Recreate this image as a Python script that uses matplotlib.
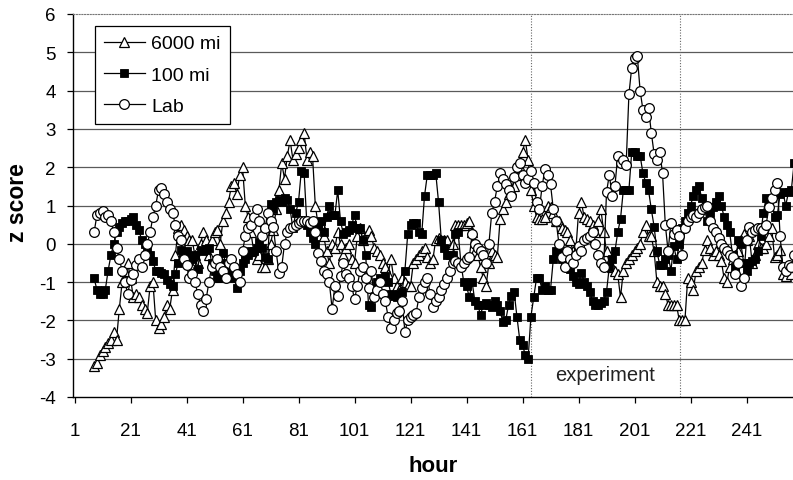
import numpy as np
import matplotlib
matplotlib.use("Agg")
import matplotlib.pyplot as plt

plt.rcParams['font.family'] = ['Liberation Sans', 'DejaVu Sans']

# ---------------- data (hourly z scores, first hour = 8) ----------------
first_hour = 8
tri_6000 = [
    -3.2, -3.1, -2.9, -2.8, -2.7, -2.6, -2.5, -2.3, -2.5, -1.7,
    -1.0, -0.7, -0.5, -0.9, -1.4, -1.3, -1.4, -1.6, -1.7, -1.8,
    -1.1, -1.0, -2.0, -2.2, -2.1, -1.9, -1.6, -1.7, -1.2, -0.3,
    0.4, 0.5, 0.35, 0.2, 0.1, 0.1, -0.3, -0.5, 0.0, 0.3,
    0.1, -0.3, 0.1, 0.3, 0.35, 0.0, 0.6, 0.8, 1.1, 1.5,
    1.6, 1.3, 1.8, 2.0, 1.0, 0.7, 0.3, -0.2, -0.4, -0.3,
    -0.6, -0.6, -0.4, 0.0, 0.35, 0.9, 1.4, 2.1, 1.7, 2.3,
    2.7, 2.2, 2.35, 2.5, 2.7, 2.9, 2.2, 2.4, 2.3, 1.0,
    0.5, 0.5, 0.2, -0.2, -0.5, 0.0, -0.1, 0.3, 0.0, -0.3,
    -0.1, 0.0, -0.4, -0.5, 0.2, 0.4, 0.1, 0.2, 0.35, 0.2,
    -0.1, -0.2, -0.3, -0.5, -0.6, -0.8, -0.4, -0.9, -1.1, -1.2,
    -0.9, -1.0, -1.1, -1.1, -0.5, -0.4, -0.3, -0.2, -0.1, -0.35,
    -0.5, -0.4, 0.1, 0.15, 0.1, 0.1, 0.1, -0.1, 0.0, 0.5,
    0.5, 0.5, 0.5, 0.55, 0.6, 0.3, -0.2, -0.3, -0.6, -0.9,
    -1.1, -0.5, -0.2, -0.3, -0.35, 0.65, 0.9, 1.1, 1.3, 1.4,
    1.5, 1.8, 2.0, 2.4, 2.7, 2.2, 1.4, 1.0, 0.7, 0.65,
    0.65, 0.7, 1.0, 0.95, 0.8, 0.6, 0.6, 0.4, 0.35, 0.3,
    0.1, -0.2, -0.2, 0.8, 1.1, 0.7, 0.65, 0.6, 0.5, 0.3,
    0.6, 0.9, 0.3, -0.2, -0.5, -0.6, -0.7, -0.8, -1.4, -0.7,
    -0.5, -0.4, -0.3, -0.2, -0.1, 0.0, 0.3, 0.5, 0.2, 0.2,
    -0.2, -1.0, -1.1,
    -1.1, -1.3, -1.6, -1.6, -1.6, -1.6, -2.0, -2.0, -2.0, -0.9,
    -1.0, -1.2, -0.7, -0.6, -0.5, -0.15, 0.1, -0.1, -0.3, -0.2,
    -0.3, -0.45, -0.9, -1.0, -0.6, -0.4, -0.3, -0.2, 0.1, 0.25,
    0.1, 0.2, -0.5, -0.3, 0.0, -0.1, -0.1, 0.0, 0.2, 0.4,
    -0.35, -0.3, -0.15, -0.8, -0.85, -0.6, -0.8, -0.5,
]
sq_100 = [
    -0.9, -1.2, -1.3, -1.3, -1.2, -0.7, -0.3, 0.0, 0.3, 0.45,
    0.55, 0.6, 0.6, 0.65, 0.7, 0.5, 0.35, 0.1, 0.0, -0.2,
    -0.3, -0.45, -0.7, -0.7, -0.75, -0.8, -0.95, -1.05, -1.1, -0.8,
    -0.5, -0.15, -0.35, -0.2, -0.45, -0.4, -0.3, -0.65, -0.15, -0.2,
    -0.15, -0.1, -0.5, -0.7, -0.9, -0.9, -0.25, -0.5, -0.6, -0.8,
    -0.9, -1.15, -0.7, -0.5, -0.4, -0.3, -0.2, -0.2, -0.1, 0.05,
    -0.1, -0.35, -0.4, 1.05, 0.9, 1.1, 1.15, 1.1, 1.2, 1.15,
    0.9, 0.4, 0.8, 1.1, 1.9, 1.85, 0.5, 0.3, 0.15, 0.0,
    0.4, 0.6, 0.3, 0.7, 1.0, 0.75, 0.75, 1.4, 0.6, 0.25,
    0.3, 0.35, 0.5, 0.75, 0.4, 0.4, 0.1, -0.3, -1.6, -1.65,
    -1.2, -1.0, -0.9, -0.95, -0.85, -1.0, -1.3, -1.35, -1.4, -1.3,
    -1.25, -0.7, 0.25, 0.5, 0.55, 0.55, 0.3, 0.25, 1.25, 1.8,
    1.8, 1.8, 1.85, 1.1, 0.1, -0.1, -0.3, -0.3, -0.3, 0.25,
    0.3, -0.5, -1.0, -1.1, -1.4, -1.0, -1.5, -1.6, -1.85, -1.6,
    -1.55, -1.6, -1.65, -1.5, -1.6, -1.75, -2.05, -2.0, -1.6, -1.35,
    -1.25, -1.9, -2.5, -2.65, -2.9, -3.0, -1.9, -1.4, -0.9, -0.9,
    -1.2, -1.1, -1.2, -1.2, -0.4, -0.2, -0.25, -0.4, -0.45, -0.5,
    -0.65, -0.85, -1.0, -1.05, -0.75, -1.0, -1.1, -1.25, -1.5, -1.6,
    -1.6, -1.55, -1.5, -1.25, -0.6, -0.4, -0.2, 0.3, 0.65, 1.4,
    1.4, 1.4, 2.4, 2.4, 2.3, 2.3, 1.85, 1.6, 1.4, 0.9,
    0.45, -0.2, -0.55,
    -0.55, -0.4, -0.3, -0.7, -0.05, -0.4, 0.0, 0.4, 0.6, 0.8,
    1.0, 1.25, 1.4, 1.5, 1.2, 0.9, 0.6, 0.8, 0.95, 1.1,
    1.25, 1.0, 0.7, 0.5, 0.3, -0.3, -0.6, 0.1, 0.0, -0.5,
    -0.7, -0.5, -0.45, -0.4, -0.2, 0.2, 0.8, 1.2, 1.1, 1.2,
    0.7, 0.75, 1.3, 1.35, 1.0, 1.35, 1.4, 2.1,
]
lab = [
    0.3, 0.75, 0.8, 0.85, 0.7, 0.75, 0.6, 0.3, -0.1, -0.4,
    -0.7, -1.0, -1.3, -0.95, -0.8, -0.55, -0.4, -0.6, -0.3, 0.0,
    0.3, 0.7, 1.0, 1.4, 1.45, 1.3, 1.1, 0.9, 0.8, 0.5,
    0.2, 0.1, -0.4, -0.55, -0.9, -0.8, -1.0, -1.3, -1.6, -1.75,
    -1.45, -1.0, -0.6, -0.5, -0.4, -0.6, -0.7, -0.9, -0.5, -0.4,
    -0.6, -0.8, -1.0, -0.2, 0.2, 0.4, 0.5, 0.7, 0.9, 0.6,
    0.2, 0.4, 0.8, 0.6, 0.45, -0.2, -0.75, -0.6, 0.0, 0.3,
    0.4, 0.45, 0.5, 0.55, 0.6, 0.6, 0.6, 0.55, 0.6, 0.3,
    -0.25, -0.45, -0.7, -0.8, -1.0, -1.7, -1.1, -1.35, -0.85, -0.5,
    -0.8, -0.9, -1.1, -1.45, -1.1, -0.7, -0.6, -0.9, -1.15, -0.7,
    -1.4, -1.2, -1.0, -1.3, -1.5, -1.9, -2.2, -2.0, -1.8, -1.75,
    -1.5, -2.3, -2.0, -1.9, -1.85, -1.8, -1.4, -1.15, -1.0, -0.9,
    -1.3, -1.65, -1.5, -1.4, -1.2, -1.05, -0.9, -0.7, -0.5, -0.45,
    -0.5, -0.6, -0.5, -0.4, -0.35, 0.25, 0.0, -0.1, -0.2, -0.3,
    -0.5, 0.0, 0.8, 1.1, 1.5, 1.85, 1.7, 1.55, 1.4, 1.25,
    1.75, 2.0, 2.1, 1.8, 1.6, 1.7, 1.9, 1.6, 1.1, 0.9,
    1.5, 1.95, 1.8, 1.55, 0.9, 0.6, 0.0, -0.35, -0.6, -0.2,
    -0.4, -0.5, -0.3, -0.05, -0.2, 0.1, 0.15, 0.2, 0.3, 0.0,
    -0.3, -0.5, -0.6, 1.35, 1.8, 1.25, 1.5, 2.3, 2.1, 2.2,
    2.05, 3.9, 4.6, 4.85, 4.9, 4.0, 3.5, 3.3, 3.55, 2.9,
    2.35, 2.2, 2.4,
    1.85, 0.5, -0.2, 0.55, 0.25, 0.35, 0.2, -0.3, 0.4, 0.6,
    0.7, 0.75, 0.7, 0.8, 0.9, 0.95, 1.0, 0.6, 0.4, 0.3,
    0.15, 0.0, -0.1, -0.2, -0.3, -0.35, -0.8, -0.5, -1.1, -0.9,
    0.1, 0.45, 0.3, 0.35, 0.4, 0.4, 0.35, 0.5, 0.95, 1.2,
    1.4, 1.6, 0.2, -0.6, -0.7, -0.55, -0.6, -0.3,
]
series_names = ["6000 mi", "100 mi", "Lab"]
tick_hours = [1, 21, 41, 61, 81, 101, 121, 141, 161, 181, 201, 221, 241]
y_ticks = [-4, -3, -2, -1, 0, 1, 2, 3, 4, 5, 6]
experiment_bounds = [163.9, 217.4]

# ---------------- figure ----------------
W, H = 793, 481
fig = plt.figure(figsize=(W / 100, H / 100), dpi=100)
x0, x1 = 0.46, 258.5
px_per_hour = 2.8
ax = fig.add_axes([73 / W, 1 - 398 / H, (x1 - x0) * px_per_hour / W, 383 / H])
ax.set_xlim(x0, x1)
ax.set_ylim(-4, 6)

for yv in y_ticks[1:-1]:
    ax.axhline(yv, color='#5a5a5a', lw=0.9, zorder=1)

for xb in experiment_bounds:
    ax.axvline(xb, color='#666666', lw=0.8, ls=(0, (1, 1.5)), zorder=1)

def hours_for(vals):
    return np.arange(first_hour, first_hour + len(vals))

ax.plot(hours_for(tri_6000), tri_6000, color='black', lw=0.9, marker='^',
        ms=7.5, mfc='white', mec='black', mew=0.9, label=series_names[0], zorder=3)
ax.plot(hours_for(sq_100), sq_100, color='black', lw=0.9, marker='s',
        ms=5.2, mfc='black', mec='black', mew=0.6, label=series_names[1], zorder=4)
ax.plot(hours_for(lab), lab, color='black', lw=0.9, marker='o',
        ms=7, mfc='white', mec='black', mew=0.9, label=series_names[2], zorder=5)

ax.text(sum(experiment_bounds) / 2, -3.42, "experiment", ha='center', va='center',
        fontsize=14.5, color='#222222', zorder=6)

ax.set_xticks(tick_hours)
ax.set_xticklabels([str(t) for t in tick_hours])
ax.set_yticks(y_ticks)
ax.set_yticklabels([str(t) for t in y_ticks])
ax.tick_params(axis='x', direction='out', length=4, width=0.9, pad=14, labelsize=13.5)
ax.tick_params(axis='y', direction='out', length=4.5, width=0.9, pad=8, labelsize=13.5)

for s in ['left', 'bottom']:
    ax.spines[s].set_color('black')
    ax.spines[s].set_linewidth(1.0)
ax.spines['top'].set_color('#777777')
ax.spines['top'].set_linestyle((0, (1, 1.5)))
ax.spines['top'].set_linewidth(0.8)
ax.spines['right'].set_visible(False)

fig.text(18 / W, 1 - 203 / H, "z score", rotation=90, ha='center', va='center',
         fontsize=16.5, fontweight='bold')
fig.text(433 / W, 1 - 466 / H, "hour", ha='center', va='center',
         fontsize=16, fontweight='bold')

leg = ax.legend(loc='upper left', bbox_to_anchor=(95 / W, 1 - 27 / H),
                bbox_transform=fig.transFigure, borderaxespad=0, fontsize=14,
                frameon=True, fancybox=False, handlelength=2.1, handletextpad=0.35,
                labelspacing=0.7, borderpad=0.45, numpoints=1)
leg.get_frame().set_edgecolor('black')
leg.get_frame().set_linewidth(0.9)
leg.get_frame().set_alpha(1)
leg.set_zorder(10)

fig.savefig("out.png", dpi=100)
